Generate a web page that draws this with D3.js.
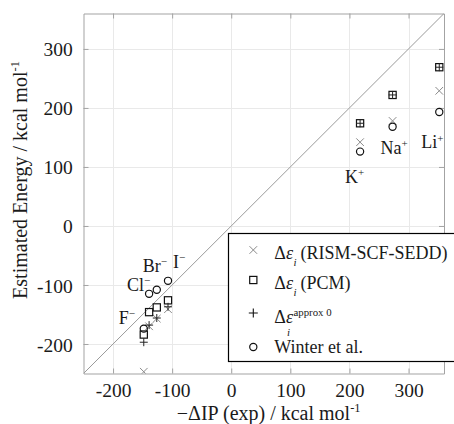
<!DOCTYPE html>
<html>
<head>
<meta charset="utf-8">
<script src="https://cdn.jsdelivr.net/npm/d3@7"></script>
<style>
  body { margin: 0; background: #fff; }
  svg { display: block; }
</style>
</head>
<body>
<svg id="chart" width="454" height="424" font-family="Liberation Serif, DejaVu Serif, serif"></svg>
<script>
// Ions and their experimental vs. estimated energies (kcal/mol)
const ionNames   = ["F", "Cl", "Br", "I", "K", "Na", "Li"];
const ionCharges = ["\u2212", "\u2212", "\u2212", "\u2212", "+", "+", "+"];
const negDeltaIPExp = [-148, -139, -126, -107, 218, 273, 352];
const rismScfSedd   = [-247, -170, -157, -141, 142, 178, 229];
const pcm           = [-184, -146, -138, -126, 174, 222, 269];
const approx0       = [-197, -168, -156, -137, 174, 222, 269];
const winter        = [-174, -115, -108, -93, 126, 168, 193];

const tickValues = [-200, -100, 0, 100, 200, 300];
const tickLabels = ["-200", "-100", "0", "100", "200", "300"];
const axisDomain = [-250, 360];

// label placement relative to the Winter et al. marker of each ion (px)
const labelOffsets = [[-25, -5], [-22, -3], [-14, -18], [5, -13], [-15, 31], [-12, 27], [-18, 36]];

const FONT = "Liberation Serif, DejaVu Serif, serif";
const INK = "#1a1a1a";

const svg = d3.select("#chart");
const plot = { left: 83.5, right: 444, top: 13.5, bottom: 373.5 };

const x = d3.scaleLinear().domain(axisDomain).range([plot.left, plot.right]);
const y = d3.scaleLinear().domain(axisDomain).range([plot.bottom, plot.top]);

svg.append("defs").append("clipPath").attr("id", "plot-clip")
  .append("rect")
  .attr("x", plot.left).attr("y", plot.top)
  .attr("width", plot.right - plot.left).attr("height", plot.bottom - plot.top);

// grid
const grid = svg.append("g").attr("stroke", "#e9e9e9").attr("stroke-width", 1);
grid.selectAll(".gx").data(tickValues).join("line")
  .attr("x1", d => Math.round(x(d)) + 0.5).attr("x2", d => Math.round(x(d)) + 0.5)
  .attr("y1", plot.top).attr("y2", plot.bottom);
grid.selectAll(".gy").data(tickValues).join("line")
  .attr("y1", d => Math.round(y(d)) + 0.5).attr("y2", d => Math.round(y(d)) + 0.5)
  .attr("x1", plot.left).attr("x2", plot.right);

// axes (ticks pointing inward on all four sides)
const fmt = (d) => tickLabels[tickValues.indexOf(d)];
const fontSize = 19.5;

function styleAxis(g) {
  g.attr("font-family", FONT).attr("font-size", fontSize);
  g.select(".domain").attr("stroke", "#a3a3a3");
  g.selectAll(".tick line").attr("stroke", "#a3a3a3");
  g.selectAll(".tick text").attr("fill", INK);
}

svg.append("g").attr("transform", `translate(0,${plot.bottom})`)
  .call(d3.axisBottom(x).tickValues(tickValues).tickFormat(fmt)
    .tickSizeInner(-5).tickSizeOuter(0).tickPadding(9.5))
  .call(styleAxis);
svg.append("g").attr("transform", `translate(${plot.left},0)`)
  .call(d3.axisLeft(y).tickValues(tickValues).tickFormat(fmt)
    .tickSizeInner(-5).tickSizeOuter(0).tickPadding(10.8))
  .call(styleAxis)
  .selectAll(".tick text").attr("dy", "0.36em");
svg.append("g").attr("transform", `translate(0,${plot.top})`)
  .call(d3.axisTop(x).tickValues(tickValues).tickFormat("")
    .tickSizeInner(-5).tickSizeOuter(0))
  .call(styleAxis);
svg.append("g").attr("transform", `translate(${plot.right},0)`)
  .call(d3.axisRight(y).tickValues(tickValues).tickFormat("")
    .tickSizeInner(-5).tickSizeOuter(0))
  .call(styleAxis);

const body = svg.append("g").attr("clip-path", "url(#plot-clip)");

// y = x reference line
body.append("line")
  .attr("x1", x(axisDomain[0])).attr("y1", y(axisDomain[0]))
  .attr("x2", x(axisDomain[1])).attr("y2", y(axisDomain[1]))
  .attr("stroke", "#9a9a9a").attr("stroke-width", 1);

const pts = (vals) => vals.map((v, i) => ({ x: negDeltaIPExp[i], y: v }));

// marker path builders
const crossPath = (cx, cy, s) => `M${cx - s},${cy - s}L${cx + s},${cy + s}M${cx - s},${cy + s}L${cx + s},${cy - s}`;
const plusPath  = (cx, cy, s) => `M${cx - s},${cy}L${cx + s},${cy}M${cx},${cy - s}L${cx},${cy + s}`;

body.append("g").selectAll("path").data(pts(rismScfSedd)).join("path")
  .attr("d", d => crossPath(x(d.x), y(d.y), 3.8))
  .attr("stroke", "#8a8a8a").attr("stroke-width", 1).attr("fill", "none");

body.append("g").selectAll("rect").data(pts(pcm)).join("rect")
  .attr("x", d => x(d.x) - 3.6).attr("y", d => y(d.y) - 3.6)
  .attr("width", 7.2).attr("height", 7.2)
  .attr("stroke", "#111").attr("stroke-width", 1.2).attr("fill", "none");

body.append("g").selectAll("path").data(pts(approx0)).join("path")
  .attr("d", d => plusPath(x(d.x), y(d.y), 4))
  .attr("stroke", "#222").attr("stroke-width", 1).attr("fill", "none");

body.append("g").selectAll("circle").data(pts(winter)).join("circle")
  .attr("cx", d => x(d.x)).attr("cy", d => y(d.y)).attr("r", 3.6)
  .attr("stroke", "#111").attr("stroke-width", 1.2).attr("fill", "none");

// helper for serif text
function addText(parent, px, py, size) {
  return parent.append("text").attr("x", px).attr("y", py)
    .attr("font-family", FONT).attr("font-size", size).attr("fill", INK);
}

// ion labels
const labels = svg.append("g");
ionNames.forEach((name, i) => {
  const t = addText(labels,
    x(negDeltaIPExp[i]) + labelOffsets[i][0],
    y(winter[i]) + labelOffsets[i][1], 18);
  t.append("tspan").text(name);
  t.append("tspan").attr("dy", -6.5).attr("font-size", 11).text(ionCharges[i]);
});

// axis titles
const xTitle = addText(svg, 268.7, 419.5, 20).attr("text-anchor", "middle");
xTitle.append("tspan").text("\u2212\u0394IP (exp) / kcal mol");
xTitle.append("tspan").attr("dy", -8).attr("font-size", 12.5).text("-1");

const yTitle = addText(svg, 0, 0, 20)
  .attr("transform", "translate(26.7,180) rotate(-90)")
  .attr("text-anchor", "middle");
yTitle.append("tspan").text("Estimated Energy / kcal mol");
yTitle.append("tspan").attr("dy", -8).attr("font-size", 12.5).text("-1");

// legend
const legend = svg.append("g");
legend.append("rect")
  .attr("x", 228.5).attr("y", 233.5).attr("width", 240).attr("height", 128)
  .attr("fill", "#fff").attr("stroke", "#000").attr("stroke-width", 1.2);

const lx = 253.3, tx = 274.3;
const rowY = [250, 280, 313, 347];
const rowBase = [259.3, 289.3, 323.3, 353.3];

legend.append("path").attr("d", crossPath(lx, rowY[0], 3.8))
  .attr("stroke", "#8a8a8a").attr("stroke-width", 1).attr("fill", "none");
legend.append("rect").attr("x", lx - 3.6).attr("y", rowY[1] - 3.6)
  .attr("width", 7.2).attr("height", 7.2)
  .attr("stroke", "#111").attr("stroke-width", 1.2).attr("fill", "none");
legend.append("path").attr("d", plusPath(lx, rowY[2], 4.5))
  .attr("stroke", "#111").attr("stroke-width", 1.1).attr("fill", "none");
legend.append("circle").attr("cx", lx).attr("cy", rowY[3]).attr("r", 3.6)
  .attr("stroke", "#111").attr("stroke-width", 1.2).attr("fill", "none");

const lfs = 18;
function deltaEps(yb) {
  const t = addText(legend, tx, yb, lfs);
  t.append("tspan").text("\u0394");
  t.append("tspan").attr("font-style", "italic").text("\u03B5");
  return t.node().getComputedTextLength();
}

// rows 1 & 2: Δε_i (…)
[["(RISM-SCF-SEDD)", 0], ["(PCM)", 1]].forEach(([txt, r]) => {
  const w = deltaEps(rowBase[r]);
  const sub = addText(legend, tx + w + 0.5, rowBase[r] + 7, 11)
    .attr("font-style", "italic").text("i");
  const sw = sub.node().getComputedTextLength();
  addText(legend, tx + w + sw + 4.5, rowBase[r], lfs).text(txt);
});

// row 3: Δε with stacked superscript/subscript
{
  const w = deltaEps(rowBase[2]);
  addText(legend, tx + w + 0.5, rowBase[2] - 7, 10.8).text("approx 0");
  addText(legend, tx + w - 6, rowBase[2] + 13, 11).attr("font-style", "italic").text("i");
}

// row 4
addText(legend, tx, rowBase[3], lfs).text("Winter et al.");
</script>
</body>
</html>
